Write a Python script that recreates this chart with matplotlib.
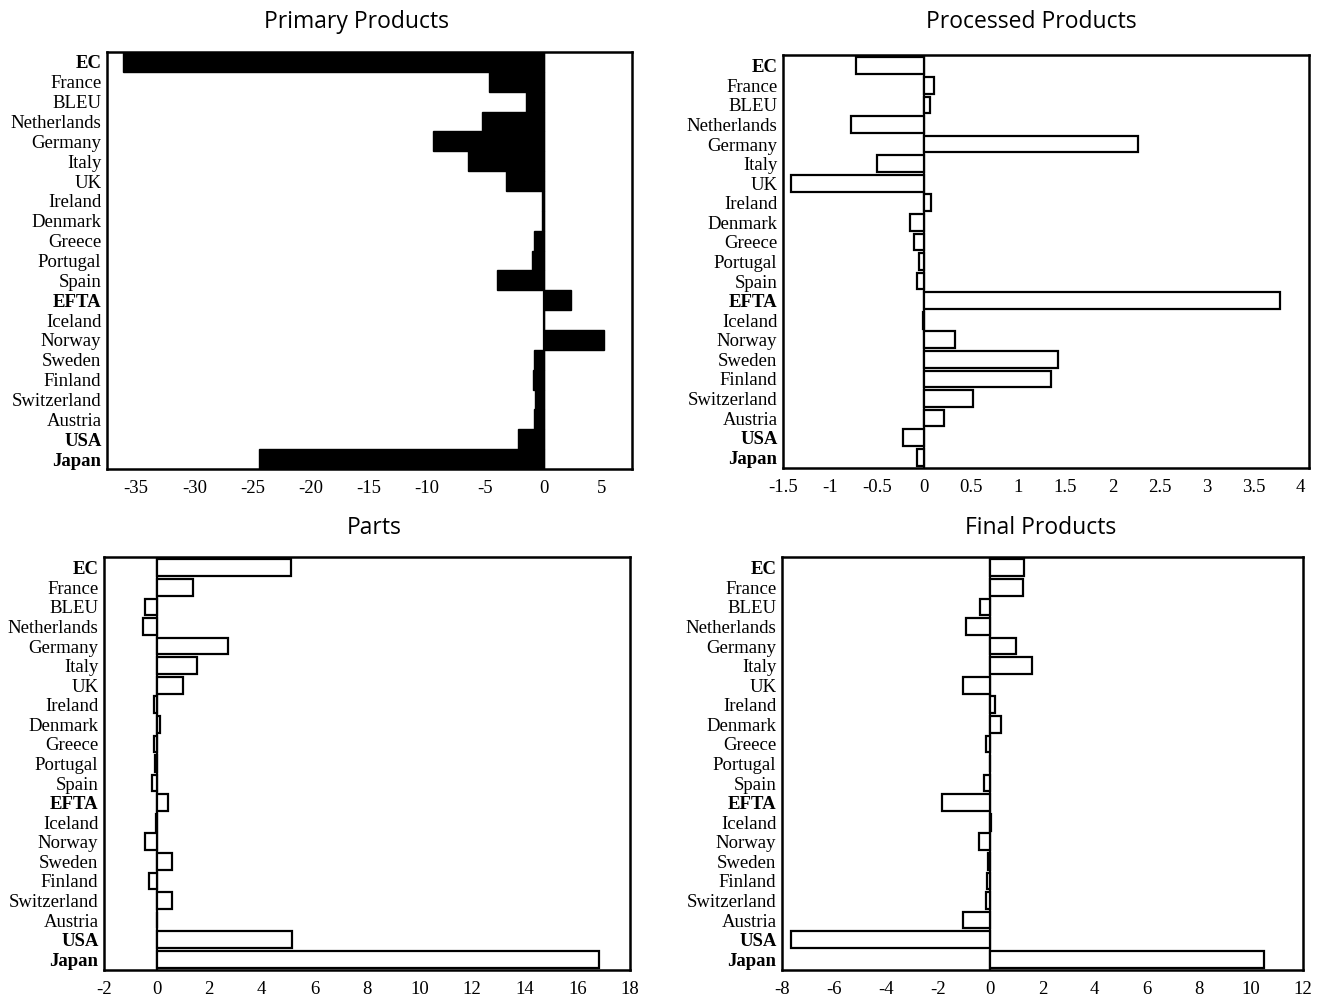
import matplotlib
matplotlib.use('Agg')
import matplotlib.pyplot as plt
import numpy as np

countries = ['EC', 'France', 'BLEU', 'Netherlands', 'Germany', 'Italy', 'UK',
             'Ireland', 'Denmark', 'Greece', 'Portugal', 'Spain', 'EFTA',
             'Iceland', 'Norway', 'Sweden', 'Finland', 'Switzerland', 'Austria',
             'USA', 'Japan']
bold_labels = ['EC', 'EFTA', 'USA', 'Japan']

primary = [-36.1, -4.7, -1.5, -5.3, -9.5, -6.5, -3.2, -0.15, -0.15, -0.8, -1.0,
           -4.0, 2.4, 0.05, 5.2, -0.8, -0.9, -0.7, -0.8, -2.2, -24.4]
processed = [-0.72, 0.10, 0.06, -0.78, 2.27, -0.50, -1.41, 0.07, -0.15, -0.11,
             -0.05, -0.08, 3.78, -0.01, 0.33, 1.42, 1.35, 0.52, 0.21, -0.22, -0.08]
parts = [5.1, 1.39, -0.46, -0.52, 2.72, 1.55, 1.0, -0.08, 0.13, -0.08, -0.07,
         -0.16, 0.44, -0.02, -0.44, 0.57, -0.28, 0.59, 0.01, 5.13, 16.82]
final = [1.28, 1.25, -0.39, -0.94, 0.98, 1.58, -1.06, 0.16, 0.42, -0.18, -0.03,
         -0.26, -1.84, 0.02, -0.44, -0.10, -0.13, -0.16, -1.04, -7.64, 10.49]

plt.rcParams['font.family'] = ['Liberation Serif', 'DejaVu Serif']

W, H = 1318, 999
fig = plt.figure(figsize=(W / 100, H / 100), dpi=100)


def panel(box, title, title_x, title_y, values, xlim, ticks, ticklabels,
          filled=False):
    l, t, r, b = box
    ax = fig.add_axes([l / W, 1 - b / H, (r - l) / W, (b - t) / H])
    y = np.arange(len(countries))
    if filled:
        ax.barh(y, values, height=1.0, color='black', edgecolor='black',
                linewidth=1.0)
        ax.set_ylim(len(countries) - 0.5, -0.5)
    else:
        ax.barh(y, values, height=0.85, color='white', edgecolor='black',
                linewidth=1.6)
        ax.set_ylim(len(countries) - 0.45, -0.55)
    ax.axvline(0, color='black', lw=1.6, zorder=0.5)
    ax.set_xlim(*xlim)
    ax.set_xticks(ticks)
    ax.set_xticklabels(ticklabels, fontsize=13.5)
    ax.set_yticks(y)
    ax.set_yticklabels(countries, fontsize=13.5)
    for lab in ax.get_yticklabels():
        if lab.get_text() in bold_labels:
            lab.set_fontweight('bold')
    ax.tick_params(axis='both', length=0)
    ax.tick_params(axis='y', pad=4)
    ax.tick_params(axis='x', pad=8)
    for s in ax.spines.values():
        s.set_linewidth(1.8)
    fig.text(title_x / W, 1 - title_y / H, title, fontsize=16.5,
             family=['Open Sans', 'DejaVu Sans'], ha='center', va='center')
    return ax


panel((107, 52, 632, 469), 'Primary Products', 357, 22, primary,
      (-37.5, 7.6), [-35, -30, -25, -20, -15, -10, -5, 0, 5],
      ['-35', '-30', '-25', '-20', '-15', '-10', '-5', '0', '5'], filled=True)
panel((783, 55, 1309, 468), 'Processed Products', 1031, 22, processed,
      (-1.47, 4.09), [-1.5, -1, -0.5, 0, 0.5, 1, 1.5, 2, 2.5, 3, 3.5, 4],
      ['-1.5', '-1', '-0.5', '0', '0.5', '1', '1.5', '2', '2.5', '3', '3.5', '4'])
panel((104, 557, 630, 970), 'Parts', 374, 528, parts,
      (-2, 18), list(range(-2, 19, 2)),
      [str(v) for v in range(-2, 19, 2)])
panel((782, 557, 1303, 970), 'Final Products', 1041, 528, final,
      (-8, 12), list(range(-8, 13, 2)),
      [str(v) for v in range(-8, 13, 2)])

plt.savefig('out.png', dpi=100)
